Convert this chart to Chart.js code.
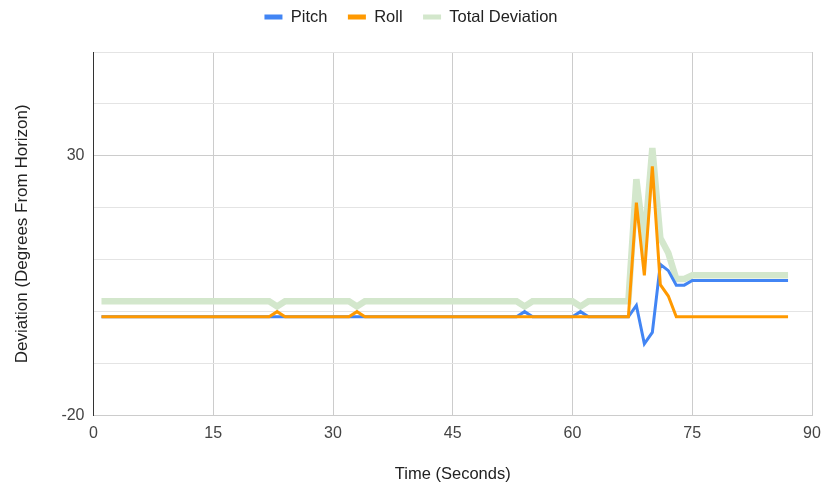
<!DOCTYPE html>
<html>
<head>
<meta charset="utf-8">
<script src="https://cdn.jsdelivr.net/npm/chart.js@4"></script>
<style>
  body { margin: 0; background: #fff; }
  #wrap { width: 822px; height: 485px; }
</style>
</head>
<body>
<div id="wrap"><canvas id="attitude"></canvas></div>
<script>
// time in seconds, one sample per second
const seconds = [
  1, 2, 3, 4, 5, 6, 7, 8, 9, 10,
  11, 12, 13, 14, 15, 16, 17, 18, 19, 20,
  21, 22, 23, 24, 25, 26, 27, 28, 29, 30,
  31, 32, 33, 34, 35, 36, 37, 38, 39, 40,
  41, 42, 43, 44, 45, 46, 47, 48, 49, 50,
  51, 52, 53, 54, 55, 56, 57, 58, 59, 60,
  61, 62, 63, 64, 65, 66, 67, 68, 69, 70,
  71, 72, 73, 74, 75, 76, 77, 78, 79, 80,
  81, 82, 83, 84, 85, 86, 87
];
const pitch = [
  -1, -1, -1, -1, -1, -1, -1, -1, -1, -1,
  -1, -1, -1, -1, -1, -1, -1, -1, -1, -1,
  -1, -1, -1, -1, -1, -1, -1, -1, -1, -1,
  -1, -1, -1, -1, -1, -1, -1, -1, -1, -1,
  -1, -1, -1, -1, -1, -1, -1, -1, -1, -1,
  -1, -1, -1, 0, -1, -1, -1, -1, -1, -1,
  0, -1, -1, -1, -1, -1, -1, 1.2, -6.2, -4,
  9.1, 7.9, 5.1, 5.1, 6, 6, 6, 6, 6, 6,
  6, 6, 6, 6, 6, 6, 6
];
const roll = [
  -1, -1, -1, -1, -1, -1, -1, -1, -1, -1,
  -1, -1, -1, -1, -1, -1, -1, -1, -1, -1,
  -1, -1, 0, -1, -1, -1, -1, -1, -1, -1,
  -1, -1, 0, -1, -1, -1, -1, -1, -1, -1,
  -1, -1, -1, -1, -1, -1, -1, -1, -1, -1,
  -1, -1, -1, -1, -1, -1, -1, -1, -1, -1,
  -1, -1, -1, -1, -1, -1, -1, 21, 7, 28,
  5.2, 3, -1, -1, -1, -1, -1, -1, -1, -1,
  -1, -1, -1, -1, -1, -1, -1
];
const totalDeviation = [
  2, 2, 2, 2, 2, 2, 2, 2, 2, 2,
  2, 2, 2, 2, 2, 2, 2, 2, 2, 2,
  2, 2, 1, 2, 2, 2, 2, 2, 2, 2,
  2, 2, 1, 2, 2, 2, 2, 2, 2, 2,
  2, 2, 2, 2, 2, 2, 2, 2, 2, 2,
  2, 2, 2, 1, 2, 2, 2, 2, 2, 2,
  1, 2, 2, 2, 2, 2, 2, 25.5, 13, 31.5,
  14.2, 11.3, 6.3, 6.3, 7, 7, 7, 7, 7, 7,
  7, 7, 7, 7, 7, 7, 7
];
const labeledYTicks = [30, -20];

const FONT = "'Liberation Sans', Arial, sans-serif";
const points = vals => seconds.map((s, i) => ({ x: s, y: vals[i] }));

const ctx = document.getElementById("attitude");
new Chart(ctx, {
  type: "line",
  data: {
    datasets: [
      { label: "Pitch", data: points(pitch), borderColor: "#4285f4", backgroundColor: "#4285f4", borderWidth: 3, order: 1 },
      { label: "Roll", data: points(roll), borderColor: "#ff9900", backgroundColor: "#ff9900", borderWidth: 3, order: 0 },
      { label: "Total Deviation", data: points(totalDeviation), borderColor: "#d3e7cc", backgroundColor: "#d3e7cc", borderWidth: 6.5, order: 2 }
    ]
  },
  options: {
    responsive: true,
    maintainAspectRatio: false,
    animation: false,
    layout: { padding: { top: -11.75, left: 0, right: 0, bottom: 0 } },
    elements: { point: { radius: 0 }, line: { tension: 0 } },
    plugins: {
      tooltip: { enabled: false },
      legend: {
        position: "top",
        labels: {
          boxWidth: 18,
          boxHeight: 5,
          padding: 20.5,
          color: "#222",
          font: { family: FONT, size: 16.5 },
          generateLabels(chart) {
            const items = Chart.defaults.plugins.legend.labels.generateLabels(chart);
            items.forEach(it => { it.lineWidth = 0; });
            // keep legend in dataset order, not draw order
            return items.sort((a, b) => a.datasetIndex - b.datasetIndex);
          }
        }
      },
      // empty spacer between legend and plot
      title: {
        display: true,
        text: "",
        weight: 500,
        padding: { top: 16.75, bottom: 0 },
        font: { size: 1, lineHeight: 0 }
      }
    },
    scales: {
      x: {
        type: "linear",
        min: 0,
        max: 90,
        ticks: { stepSize: 15, padding: 8, color: "#444", font: { family: FONT, size: 16 } },
        grid: {
          drawTicks: false,
          color: c => (c.tick && c.tick.value === 0 ? "rgba(0,0,0,0)" : "#cccccc")
        },
        border: { color: "#cccccc" },
        title: { display: true, text: "Time (Seconds)", color: "#222", font: { family: FONT, size: 16.5 }, padding: { top: 0, bottom: 1 } },
        afterFit(scale) {
          scale.height = 69.5;
          scale.paddingRight = 10;
        }
      },
      y: {
        min: -20,
        max: 50,
        ticks: {
          stepSize: 10,
          padding: 9,
          color: "#444",
          font: { family: FONT, size: 16 },
          callback: v => (labeledYTicks.includes(v) ? v : "")
        },
        grid: {
          drawTicks: false,
          color: c => (c.tick && labeledYTicks.includes(c.tick.value) ? "#cccccc" : "#e4e4e4")
        },
        border: { color: "#333333", width: 1 },
        title: { display: true, text: "Deviation (Degrees From Horizon)", color: "#222", font: { family: FONT, size: 17 }, padding: { top: 12.3, bottom: 0 } },
        afterFit(scale) {
          scale.width = 93.5;
        }
      }
    }
  }
});
</script>
</body>
</html>
